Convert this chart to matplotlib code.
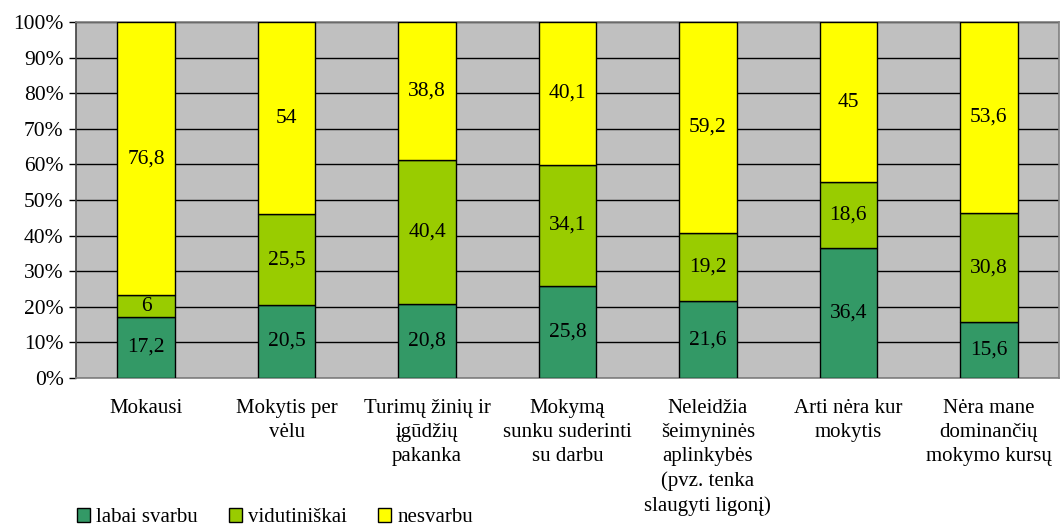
import matplotlib
matplotlib.use("Agg")
import matplotlib.pyplot as plt
from matplotlib.ticker import MultipleLocator, FuncFormatter
from matplotlib.patches import Patch

categories = ["Mokausi", "Mokytis per\nvėlu", "Turimų žinių ir\nįgūdžių\npakanka",
              "Mokymą\nsunku suderinti\nsu darbu", "Neleidžia\nšeimyninės\naplinkybės\n(pvz. tenka\nslaugyti ligonį)",
              "Arti nėra kur\nmokytis", "Nėra mane\ndominančių\nmokymo kursų"]
labai = [17.2, 20.5, 20.8, 25.8, 21.6, 36.4, 15.6]
vidut = [6, 25.5, 40.4, 34.1, 19.2, 18.6, 30.8]
nesv = [76.8, 54, 38.8, 40.1, 59.2, 45, 53.6]
series_names = ["labai svarbu", "vidutiniškai", "nesvarbu"]
colors = ["#339966", "#99CC00", "#FFFF00"]

plt.rcParams['font.family'] = ['Liberation Serif', 'DejaVu Serif']
fig = plt.figure(figsize=(10.6, 5.31), dpi=100)
ax = fig.add_axes([76/1060, 1-378/531, 1-77/1060, (378-22)/531])
ax.set_facecolor("#C0C0C0")

x = list(range(len(categories)))
w = 0.41
bottoms = [0]*len(x)
for vals, col in zip([labai, vidut, nesv], colors):
    ax.bar(x, vals, w, bottom=bottoms, color=col, edgecolor="black", linewidth=1.0, zorder=3)
    for xi, v, b in zip(x, vals, bottoms):
        lab = ("%g" % v).replace(".", ",")
        ax.text(xi, b + v/2, lab, ha="center", va="center", fontsize=15.5, zorder=4)
    bottoms = [b + v for b, v in zip(bottoms, vals)]

ax.set_xlim(-0.5, len(x)-0.5)
ax.set_ylim(0, 100)
ax.yaxis.set_major_locator(MultipleLocator(10))
ax.yaxis.set_major_formatter(FuncFormatter(lambda v, p: "%d%%" % v))
ax.grid(axis="y", color="black", linewidth=1.0, zorder=1)
ax.set_axisbelow(True)
ax.set_xticks(x)
ax.set_xticklabels(categories, fontsize=15, linespacing=1.36, va="top")
ax.tick_params(axis="x", length=0, pad=15)
ax.tick_params(axis="y", length=5, width=1, labelsize=15.5, pad=4)
for s in ["top", "right", "bottom"]:
    ax.spines[s].set_color("#808080")
    ax.spines[s].set_linewidth(1.2)
ax.spines["left"].set_color("#404040")
ax.spines["left"].set_linewidth(1.2)

handles = [Patch(facecolor=c, edgecolor="black", label=n) for c, n in zip(colors, series_names)]
fig.legend(handles=handles, loc="lower left", bbox_to_anchor=(58/1060, -15/531), ncol=3, frameon=False,
           fontsize=15, handlelength=0.62, handleheight=0.62, handletextpad=0.3, columnspacing=1.5)

fig.savefig("out.png", dpi=100)
